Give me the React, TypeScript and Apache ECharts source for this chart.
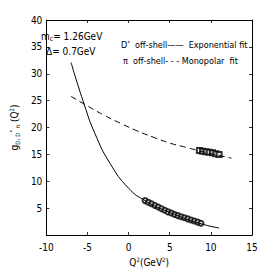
import React, { useEffect, useRef } from "react";
import * as echarts from "echarts";

const expFitCurve: [number, number][] = [
  [-7.0, 32.1], [-5.4, 24.3], [-4.1, 18.9], [-2.25, 13.3], [0, 8.7],
  [2, 6.4], [5, 4.2], [8.8, 2.1], [11, 1.3],
];
const monoFitCurve: [number, number][] = [
  [-7, 25.8], [-5, 24.0], [-3, 22.3], [-1, 20.8], [1, 19.4], [3, 18.2],
  [5, 17.1], [7, 16.3], [9, 15.5], [11, 14.8], [12.5, 14.3],
];
const dStarQ2 = [2.0, 2.4, 2.8, 3.2, 3.6, 4.0, 4.4, 4.8, 5.2, 5.6, 6.0, 6.4, 6.8, 7.2, 7.6, 8.0, 8.4, 8.8];
const dStarG = [6.4, 6.1, 5.8, 5.5, 5.2, 4.9, 4.6, 4.3, 4.1, 3.8, 3.6, 3.4, 3.2, 3.0, 2.8, 2.6, 2.4, 2.2];
const piQ2 = [8.6, 9.0, 9.4, 9.8, 10.2, 10.6, 11.0];
const piG = [15.7, 15.6, 15.5, 15.4, 15.3, 15.1, 15.0];

const FONT = "'Liberation Sans Narrow', 'DejaVu Sans Condensed', 'Liberation Sans', sans-serif";

export default function App() {
  const ref = useRef<HTMLDivElement>(null);
  useEffect(() => {
    if (!ref.current) return;
    const chart = echarts.init(ref.current, null, { renderer: "svg" });
    const axisCommon = {
      axisLine: { show: true, onZero: false, lineStyle: { color: "#000", width: 1 } },
      axisTick: { show: true, inside: true, length: 3, lineStyle: { color: "#000", width: 0.8 } },
      splitLine: { show: false },
    };
    chart.setOption({
      animation: false,
      backgroundColor: "#fff",
      grid: { left: 36, right: 26, top: 20, bottom: 38, containLabel: false },
      xAxis: [
        {
          type: "value", min: -10, max: 15, interval: 5, position: "bottom",
          ...axisCommon,
          axisLabel: { color: "#000", fontSize: 10, fontFamily: FONT, margin: 7 },
          name: "Q{sup|2}(GeV{sup|2})",
          nameLocation: "middle", nameGap: 20,
          nameTextStyle: {
            color: "#000", fontSize: 10, fontFamily: FONT,
            rich: { sup: { fontSize: 6, verticalAlign: "top", padding: [0, 0, 6, 0], fontFamily: FONT } },
          },
        },
        {
          type: "value", min: -10, max: 15, interval: 5, position: "top",
          ...axisCommon,
          axisLabel: { show: false },
        },
      ],
      yAxis: [
        {
          type: "value", min: 0, max: 40, interval: 5, position: "left",
          ...axisCommon,
          axisLabel: {
            color: "#000", fontSize: 10, fontFamily: FONT, margin: 4,
            formatter: (v: number) => (v === 0 ? "" : String(v)),
          },
          name: "g{s|D₁ D}{p|*}{s| π} (Q{p|2})",
          nameLocation: "middle", nameGap: 20, nameRotate: 90,
          nameTextStyle: {
            color: "#000", fontSize: 10, fontFamily: FONT,
            rich: {
              s: { fontSize: 6, verticalAlign: "bottom", padding: [6, 0, 0, 0], fontFamily: FONT },
              p: { fontSize: 6, verticalAlign: "top", padding: [0, 0, 6, 0], fontFamily: FONT },
            },
          },
        },
        {
          type: "value", min: 0, max: 40, interval: 5, position: "right",
          ...axisCommon,
          axisLabel: { show: false },
        },
      ],
      series: [
        {
          type: "line", data: expFitCurve, smooth: true, symbol: "none",
          lineStyle: { color: "#000", width: 1 },
        },
        {
          type: "line", data: monoFitCurve, smooth: true, symbol: "none",
          lineStyle: { color: "#000", width: 1, type: [6, 4] },
        },
        {
          type: "scatter", data: dStarQ2.map((q, i) => [q, dStarG[i]]),
          symbol: "emptyCircle", symbolSize: 5,
          itemStyle: { color: "#000", borderColor: "#000", borderWidth: 0.5 },
        },
        {
          type: "scatter", data: piQ2.map((q, i) => [q, piG[i]]),
          symbol: "emptyRect", symbolSize: 5,
          itemStyle: { color: "#000", borderColor: "#000", borderWidth: 0.5 },
        },
      ],
      graphic: [
        {
          type: "text", left: 41, top: 31,
          style: {
            text: "m{s|c}= 1.26GeV", fill: "#000", fontSize: 10, fontFamily: FONT,
            rich: { s: { fontSize: 7, verticalAlign: "bottom", padding: [5, 0, 0, 0], fontFamily: FONT } },
          },
        },
        {
          type: "text", left: 46, top: 46,
          style: { text: "Δ= 0.7GeV", fill: "#000", fontSize: 10, fontFamily: FONT },
        },
        {
          type: "text", left: 121, top: 39,
          style: {
            text: "D{p|*}  off-shell——  Exponential fit", fill: "#000", fontSize: 9, fontFamily: FONT,
            rich: { p: { fontSize: 6, verticalAlign: "top", padding: [0, 0, 6, 0], fontFamily: FONT } },
          },
        },
        {
          type: "text", left: 123, top: 56,
          style: { text: "π  off-shell- - - Monopolar  fit", fill: "#000", fontSize: 9, fontFamily: FONT },
        },
      ],
    });
    return () => chart.dispose();
  }, []);
  return (
    <div
      ref={ref}
      style={{ position: "fixed", left: 0, top: 0, width: 278, height: 273 }}
    />
  );
}
